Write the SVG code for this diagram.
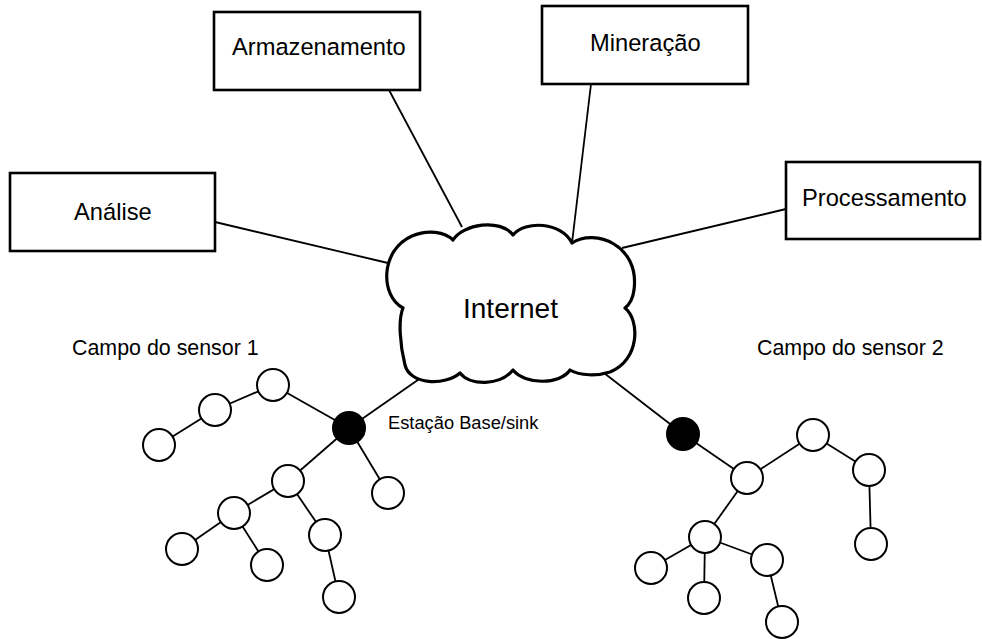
<svg xmlns="http://www.w3.org/2000/svg" width="982" height="639" viewBox="0 0 982 639">
  <style>
    .box { fill: #fff; stroke: #000; stroke-width: 2.6; }
    .lbl { font-family: "Liberation Sans", Arial, sans-serif; fill: #000; }
    .big { font-size: 23.7px; }
    .mid { font-size: 21.4px; }
    .sm { font-size: 18.3px; }
    .link { stroke: #000; stroke-width: 1.8; fill: none; }
    .node { fill: #fff; stroke: #000; stroke-width: 2; }
    .sink { fill: #000; stroke: #000; stroke-width: 2; }
    .cloud { fill: #fff; stroke: #000; stroke-width: 3.2; stroke-linejoin: round; }
  </style>
  <rect width="982" height="639" fill="#fff"/>

  <!-- connectors -->
  <g id="connectors">
    <line class="link" x1="215" y1="222" x2="388" y2="263"/>
    <line class="link" x1="389" y1="90" x2="462" y2="227" stroke-width="1.5"/>
    <line class="link" x1="591" y1="84" x2="572" y2="243" stroke-width="1.5"/>
    <line class="link" x1="786" y1="209" x2="622" y2="248"/>
    <line class="link" x1="425" y1="375" x2="349" y2="428" stroke-width="2.2"/>
    <line class="link" x1="604" y1="373" x2="683" y2="434" stroke-width="2.2"/>
    <!-- sensor field 1 -->
    <line class="link" x1="349" y1="428" x2="273" y2="385"/>
    <line class="link" x1="273" y1="385" x2="215" y2="410"/>
    <line class="link" x1="215" y1="410" x2="159" y2="445"/>
    <line class="link" x1="349" y1="428" x2="288" y2="481"/>
    <line class="link" x1="349" y1="428" x2="388" y2="493"/>
    <line class="link" x1="288" y1="481" x2="234" y2="513"/>
    <line class="link" x1="234" y1="513" x2="182" y2="549"/>
    <line class="link" x1="234" y1="513" x2="267" y2="565"/>
    <line class="link" x1="288" y1="481" x2="325" y2="535"/>
    <line class="link" x1="325" y1="535" x2="339" y2="597"/>
    <!-- sensor field 2 -->
    <line class="link" x1="683" y1="434" x2="747" y2="478"/>
    <line class="link" x1="747" y1="478" x2="813" y2="435"/>
    <line class="link" x1="813" y1="435" x2="869" y2="470"/>
    <line class="link" x1="869" y1="470" x2="871" y2="544"/>
    <line class="link" x1="747" y1="478" x2="705" y2="537"/>
    <line class="link" x1="705" y1="537" x2="651" y2="568"/>
    <line class="link" x1="705" y1="537" x2="704" y2="598"/>
    <line class="link" x1="705" y1="537" x2="767" y2="560"/>
    <line class="link" x1="767" y1="560" x2="782" y2="622"/>
  </g>

  <!-- service boxes -->
  <g id="armazenamento">
    <rect class="box" x="214" y="12" width="206" height="78"/>
    <text class="lbl big" x="232" y="55">Armazenamento</text>
  </g>
  <g id="mineracao">
    <rect class="box" x="542" y="6" width="206" height="78"/>
    <text class="lbl big" x="590" y="51">Mineração</text>
  </g>
  <g id="analise">
    <rect class="box" x="10" y="173" width="205" height="78"/>
    <text class="lbl big" x="74" y="220">Análise</text>
  </g>
  <g id="processamento">
    <rect class="box" x="786" y="162" width="194" height="77"/>
    <text class="lbl big" x="802" y="206">Processamento</text>
  </g>

  <!-- cloud -->
  <g id="internet">
    <path class="cloud" d="M403,308
      C380,296 380,250 412,236 C428,229 445,232 453,240
      C463,224 500,218 513,235
      C525,220 562,222 572,243
      C595,228 640,245 634,290 C633,298 630,304 625,308
      C640,320 640,360 610,372 C598,376 580,376 570,370
      C560,385 525,385 513,370
      C500,386 470,386 460,373
      C445,386 410,385 405,365 C400,345 398,320 403,308 Z"/>
    <text class="lbl" x="463" y="318" font-size="28">Internet</text>
  </g>

  <!-- labels -->
  <g id="campo1"><text class="lbl mid" x="72" y="355">Campo do sensor 1</text></g>
  <g id="campo2"><text class="lbl mid" x="757" y="355">Campo do sensor 2</text></g>
  <g id="estacao"><text class="lbl sm" x="388" y="429">Estação Base/sink</text></g>

  <!-- sensor field 1 -->
  <g id="sink1"><circle class="sink" cx="349" cy="428" r="16"/></g>
  <g id="s1n1"><circle class="node" cx="273" cy="385" r="16"/></g>
  <g id="s1n2"><circle class="node" cx="215" cy="410" r="16"/></g>
  <g id="s1n3"><circle class="node" cx="159" cy="445" r="16"/></g>
  <g id="s1n4"><circle class="node" cx="288" cy="481" r="16"/></g>
  <g id="s1n5"><circle class="node" cx="388" cy="493" r="16"/></g>
  <g id="s1n6"><circle class="node" cx="234" cy="513" r="16"/></g>
  <g id="s1n7"><circle class="node" cx="182" cy="549" r="16"/></g>
  <g id="s1n8"><circle class="node" cx="267" cy="565" r="16"/></g>
  <g id="s1n9"><circle class="node" cx="325" cy="535" r="16"/></g>
  <g id="s1n10"><circle class="node" cx="339" cy="597" r="16"/></g>

  <!-- sensor field 2 -->
  <g id="sink2"><circle class="sink" cx="683" cy="434" r="16"/></g>
  <g id="s2n1"><circle class="node" cx="747" cy="478" r="16"/></g>
  <g id="s2n2"><circle class="node" cx="813" cy="435" r="16"/></g>
  <g id="s2n3"><circle class="node" cx="869" cy="470" r="16"/></g>
  <g id="s2n4"><circle class="node" cx="871" cy="544" r="16"/></g>
  <g id="s2n5"><circle class="node" cx="705" cy="537" r="16"/></g>
  <g id="s2n6"><circle class="node" cx="651" cy="568" r="16"/></g>
  <g id="s2n7"><circle class="node" cx="704" cy="598" r="16"/></g>
  <g id="s2n8"><circle class="node" cx="767" cy="560" r="16"/></g>
  <g id="s2n9"><circle class="node" cx="782" cy="622" r="16"/></g>
</svg>
